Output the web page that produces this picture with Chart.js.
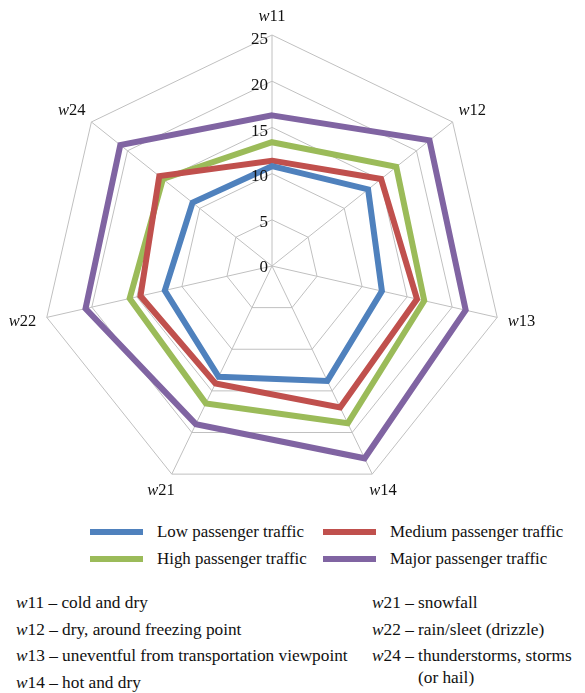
<!DOCTYPE html>
<html>
<head>
<meta charset="utf-8">
<script src="https://cdn.jsdelivr.net/npm/chart.js@4/dist/chart.umd.min.js"></script>
<style>
  html, body { margin: 0; padding: 0; background: #fff; }
  body { width: 585px; height: 693px; position: relative; overflow: hidden;
         font-family: "Liberation Serif", "Times New Roman", serif; color: #111; }
  #wrap { position: absolute; left: 0; top: 0; width: 585px; height: 505px; }
  #legend { position: absolute; left: 90px; top: 518px; width: 495px; font-size: 16.9px; }
  .lg { position: absolute; height: 27px; line-height: 27px; white-space: nowrap; }
  .lg span.sw { position: absolute; left: 0; top: 11px; width: 53px; height: 6px; }
  .lg span.tx { position: absolute; left: 67px; }
  .note { position: absolute; font-size: 17.3px; line-height: 26.7px; white-space: nowrap; }
  .note i { font-style: italic; }
</style>
</head>
<body>
<div id="wrap"><canvas id="chart"></canvas></div>
<div id="legend"></div>
<div class="note" style="left:16px; top:590px;">
  <div><i>w</i>11 – cold and dry</div>
  <div><i>w</i>12 – dry, around freezing point</div>
  <div><i>w</i>13 – uneventful from transportation viewpoint</div>
  <div><i>w</i>14 – hot and dry</div>
</div>
<div class="note" style="left:372px; top:590px;">
  <div><i>w</i>21 – snowfall</div>
  <div><i>w</i>22 – rain/sleet (drizzle)</div>
  <div><i>w</i>24 – thunderstorms, storms</div>
  <div style="padding-left:46px; margin-top:-5px;">(or hail)</div>
</div>
<script>
const axisCodes = ["11", "12", "13", "14", "21", "22", "24"];
const tickValues = [0, 5, 10, 15, 20, 25];

const lowTraffic = [10.8, 13.3, 12.2, 13.8, 13.3, 11.9, 11.0];
const mediumTraffic = [11.4, 15.1, 16.1, 17.0, 14.1, 14.6, 15.6];
const highTraffic = [13.4, 17.2, 16.9, 18.9, 16.5, 15.8, 15.1];
const majorTraffic = [16.3, 21.8, 21.5, 23.1, 19.0, 20.7, 21.0];

const seriesNames = ["Low passenger traffic", "Medium passenger traffic", "High passenger traffic", "Major passenger traffic"];
const seriesColors = ["#4f81bd", "#c0504d", "#9bbb59", "#8064a2"];
const seriesData = [lowTraffic, mediumTraffic, highTraffic, majorTraffic];

const serif = '"Liberation Serif", "Times New Roman", serif';

// tick labels (incl. 0) and point labels with italic "w"
const labelsPlugin = {
  id: "radarLabels",
  afterDraw(chart) {
    const { ctx } = chart;
    const r = chart.scales.r;
    ctx.save();
    ctx.fillStyle = "#111";
    ctx.font = `17px ${serif}`;
    ctx.textAlign = "right";
    ctx.textBaseline = "middle";
    tickValues.forEach((v) => {
      const p = r.getPointPosition(0, r.getDistanceFromCenterForValue(v));
      ctx.fillText(String(v), p.x - 4, p.y + 2 + v * 0.12);
    });

    ctx.textAlign = "left";
    axisCodes.forEach((code, i) => {
      const p = r.getPointPosition(i, r.drawingArea + 18);
      const dx = (p.x - r.xCenter) / (r.drawingArea + 18);
      ctx.font = `italic 16.5px ${serif}`;
      const ww = ctx.measureText("w").width;
      ctx.font = `16.5px ${serif}`;
      const nw = ctx.measureText(code).width;
      const x0 = p.x + dx * 7 - (ww + nw) / 2;
      ctx.font = `italic 16.5px ${serif}`;
      ctx.fillText("w", x0, p.y);
      ctx.font = `16.5px ${serif}`;
      ctx.fillText(code, x0 + ww, p.y);
    });
    ctx.restore();
  },
};

new Chart(document.getElementById("chart"), {
  type: "radar",
  data: {
    labels: axisCodes.map((c) => "w" + c),
    datasets: seriesNames.map((name, i) => ({
      label: name,
      data: seriesData[i],
      borderColor: seriesColors[i],
      backgroundColor: "transparent",
      borderWidth: 6,
      borderJoinStyle: "miter",
      pointRadius: 0,
      fill: false,
    })),
  },
  options: {
    responsive: true,
    maintainAspectRatio: false,
    animation: false,
    layout: { padding: { left: 41, top: 35, right: 82, bottom: 8 } },
    plugins: { legend: { display: false }, tooltip: { enabled: false } },
    scales: {
      r: {
        min: 0,
        max: 25,
        ticks: { stepSize: 5, display: false },
        grid: { color: "#c0c0c0", lineWidth: 1 },
        angleLines: { color: "#c0c0c0", lineWidth: 1 },
        pointLabels: { display: false },
      },
    },
  },
  plugins: [labelsPlugin],
});

const legend = document.getElementById("legend");
const legendCols = [0, 233];
seriesNames.forEach((name, i) => {
  const item = document.createElement("div");
  item.className = "lg";
  item.style.left = legendCols[i % 2] + "px";
  item.style.top = Math.floor(i / 2) * 26.6 + "px";
  item.innerHTML = `<span class="sw" style="background:${seriesColors[i]}"></span><span class="tx">${name}</span>`;
  legend.appendChild(item);
});
</script>
</body>
</html>
